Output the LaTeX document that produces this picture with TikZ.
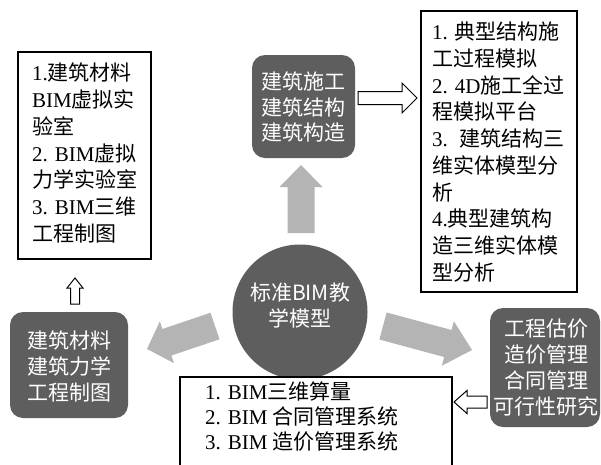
\documentclass[tikz,border=0pt]{standalone}
\usepackage{fontspec}
\setmainfont{Liberation Serif}
\newfontfamily\cjk{Noto Sans CJK SC}
\usetikzlibrary{calc}
\definecolor{boxgray}{HTML}{5E5E5E}
\definecolor{arrowgray}{HTML}{B4B4B4}
\newcommand\zh[1]{{\cjk #1}}
% #1 style, #2 tail, #3 tip, #4 body half width, #5 head half width, #6 head length
\newcommand\fatarrow[6]{%
  \coordinate (fa-n) at ($(#3)!#6!(#2)$);
  \path[#1] ($(#2)!#4!90:(#3)$) -- ($(fa-n)!#4!90:(#3)$) -- ($(fa-n)!#5!90:(#3)$) -- (#3)
    -- ($(fa-n)!#5!-90:(#3)$) -- ($(fa-n)!#4!-90:(#3)$) -- ($(#2)!#4!-90:(#3)$) -- cycle;
}
\begin{document}
\begin{tikzpicture}[x=1pt,y=-1pt,
  every node/.style={font=\fontsize{21}{26.7}\selectfont, inner sep=0pt},
  darkbox/.style={fill=boxgray, rounded corners=13pt, draw=none},
  frame/.style={draw=black, line width=1.1pt, fill=white},
  hollow/.style={draw=black, line width=1pt, fill=white, line join=miter},
  fat/.style={fill=arrowgray},
  wtext/.style={text=white, align=center, font=\cjk\fontsize{21}{25.5}\selectfont},
  btext/.style={align=left, text=black}]
\useasboundingbox (0,0) rectangle (601,464);
\fill[white] (0,0) rectangle (601,464);

% fat gray arrows
\coordinate (upT) at (301,233); \coordinate (upH) at (301,165);
\coordinate (lfT) at (215,326); \coordinate (lfH) at (147,349);
\coordinate (rtT) at (383,326); \coordinate (rtH) at (472,350);
\fatarrow{fat}{upT}{upH}{13.5pt}{21.5pt}{22pt}
\fatarrow{fat}{lfT}{lfH}{14pt}{22pt}{21pt}
\fatarrow{fat}{rtT}{rtH}{14pt}{23pt}{25pt}

% centre circle
\node[circle, fill=boxgray, minimum size=135pt] (cir) at (300,312) {};
\node[wtext] (cirtext) at (300,305.5) {标准BIM教\\学模型};

% top-left frame
\node[frame, minimum width=133pt, minimum height=207pt] (ltbox) at (84.5,155.5) {};
\node[btext, anchor=west] (lttext) at (32,153) {1.\zh{建筑材料}\\BIM\zh{虚拟实}\\\zh{验室}\\2. BIM\zh{虚拟}\\\zh{力学实验室}\\3. BIM\zh{三维}\\\zh{工程制图}};

% top dark box
\node[darkbox, minimum width=103pt, minimum height=103pt] (tbox) at (303.5,106.5) {};
\node[wtext] (ttext) at (303.5,107) {建筑施工\\建筑结构\\建筑构造};

% top-right frame
\node[frame, minimum width=156pt, minimum height=281pt] (rtbox) at (499,151.5) {};
\node[btext, anchor=west] (rttext) at (432,152) {1. \zh{典型结构施}\\\zh{工过程模拟}\\2. 4D\zh{施工全过}\\\zh{程模拟平台}\\3.\hspace{12pt}\zh{建筑结构三}\\\zh{维实体模型分}\\\zh{析}\\4.\zh{典型建筑构}\\\zh{造三维实体模}\\\zh{型分析}};

% left dark box
\node[darkbox, minimum width=118pt, minimum height=106pt] (lbox) at (69,365) {};
\node[wtext, font=\cjk\fontsize{21}{26}\selectfont] (ltext) at (69,366) {建筑材料\\建筑力学\\工程制图};

% right dark box
\node[darkbox, minimum width=110pt, minimum height=119pt] (rbox) at (545,367.5) {};
\node[wtext, font=\cjk\fontsize{21}{26.3}\selectfont] (rtext) at (546,367.5) {工程估价\\造价管理\\合同管理\\可行性研究};

% bottom frame
\node[frame, minimum width=272pt, minimum height=98pt] (bbox) at (316,426) {};
\node[btext, anchor=west, font=\fontsize{21}{25}\selectfont] (btxt) at (205,417) {1. BIM\zh{三维算量}\\2. BIM \zh{合同管理系统}\\3. BIM \zh{造价管理系统}};

% hollow arrows
\coordinate (haT) at (358,98);  \coordinate (haH) at (417,98);
\coordinate (hbT) at (487,402); \coordinate (hbH) at (454,402);
\coordinate (hcT) at (75,304);  \coordinate (hcH) at (75,278);
\fatarrow{hollow}{haT}{haH}{6.5pt}{15pt}{15pt}
\fatarrow{hollow}{hbT}{hbH}{6pt}{11.5pt}{13pt}
\fatarrow{hollow}{hcT}{hcH}{4.5pt}{8pt}{10pt}
\end{tikzpicture}
\end{document}
